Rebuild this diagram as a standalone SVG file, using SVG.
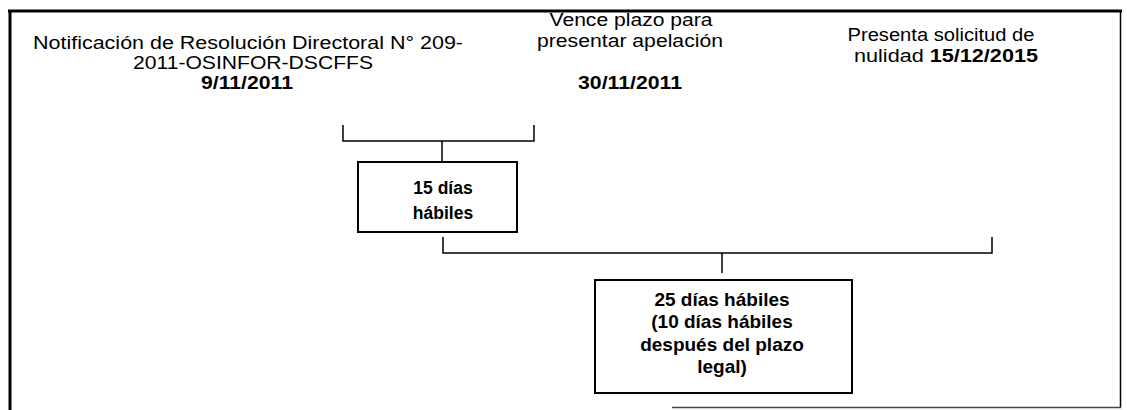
<svg xmlns="http://www.w3.org/2000/svg" width="1127" height="410" viewBox="0 0 1127 410">
<style>
.t{font-family:"Liberation Sans",Arial,sans-serif;font-size:17.5px;fill:#000;text-anchor:middle}
.b{font-weight:bold}
.bx{font-family:"Liberation Sans",Arial,sans-serif;font-size:17.5px;font-weight:bold;fill:#000;text-anchor:middle}
.bx2{font-family:"Liberation Sans",Arial,sans-serif;font-size:19px;font-weight:bold;fill:#000;text-anchor:middle}
.box{fill:#fff;stroke:#000;stroke-width:2}
.ln{fill:none;stroke:#000;stroke-width:1.5}
</style>
<rect width="1127" height="410" fill="#fff"/>
<g id="frame">
<line x1="8" y1="11" x2="1122" y2="11" stroke="#000" stroke-width="3"/>
<line x1="10" y1="10" x2="10" y2="410" stroke="#000" stroke-width="3"/>
<line x1="1120.5" y1="10" x2="1120.5" y2="408" stroke="#000" stroke-width="1.5"/>
<line x1="672" y1="407.5" x2="1121" y2="407.5" stroke="#444" stroke-width="1.5"/>
</g>
<g id="n-notificacion">
<text class="t" x="248" y="49" textLength="430" lengthAdjust="spacingAndGlyphs">Notificación de Resolución Directoral N° 209-</text>
<text class="t" x="253" y="69" textLength="240" lengthAdjust="spacingAndGlyphs">2011-OSINFOR-DSCFFS</text>
<text class="t b" x="247" y="89" textLength="92" lengthAdjust="spacingAndGlyphs">9/11/2011</text>
</g>
<g id="n-vence">
<text class="t" x="631" y="26" textLength="163" lengthAdjust="spacingAndGlyphs">Vence plazo para</text>
<text class="t" x="630" y="47" textLength="186" lengthAdjust="spacingAndGlyphs">presentar apelación</text>
<text class="t b" x="630" y="89" textLength="104" lengthAdjust="spacingAndGlyphs">30/11/2011</text>
</g>
<g id="n-presenta">
<text class="t" x="941" y="41" textLength="187" lengthAdjust="spacingAndGlyphs">Presenta solicitud de</text>
<text class="t" x="946" y="62" textLength="184" lengthAdjust="spacingAndGlyphs">nulidad <tspan class="b">15/12/2015</tspan></text>
</g>
<g id="connectors">
<path class="ln" d="M343,125 V141 H534 V125 M442,141 V162"/>
<path class="ln" d="M443,237 V253 H992 V237 M722,253 V273"/>
</g>
<g id="n-15dias">
<rect class="box" x="358" y="162" width="159" height="70"/>
<text class="bx" x="443" y="194">15 días</text>
<text class="bx" x="443" y="219">hábiles</text>
</g>
<g id="n-25dias">
<rect class="box" x="595" y="280" width="257" height="113"/>
<text class="bx2" x="722" y="306">25 días hábiles</text>
<text class="bx2" x="722" y="328">(10 días hábiles</text>
<text class="bx2" x="722" y="351">después del plazo</text>
<text class="bx2" x="722" y="373">legal)</text>
</g>
</svg>
